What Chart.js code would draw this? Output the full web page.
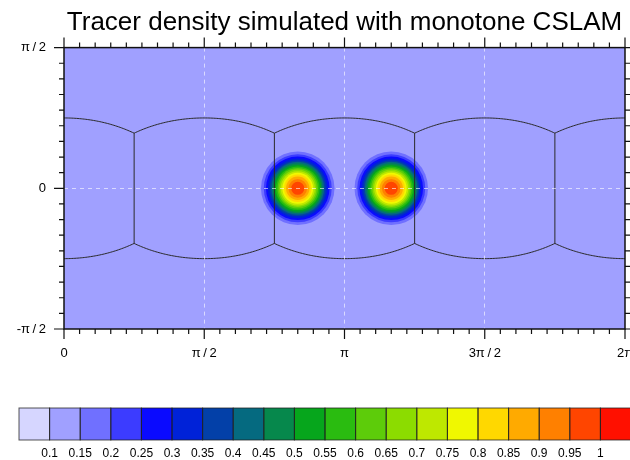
<!DOCTYPE html>
<html><head><meta charset="utf-8">
<script src="https://cdn.jsdelivr.net/npm/chart.js@4"></script>
<style>html,body{margin:0;padding:0;background:#fff;} canvas{display:block;}</style>
</head><body>
<canvas id="c" width="630" height="460" style="width:630px;height:460px"></canvas>
<script>
// ---------- data ----------
const titleText = 'Tracer density simulated with monotone CSLAM';
// colour levels (contour boundaries) and labels of the colour bar
const levels = [0.1,0.15,0.2,0.25,0.3,0.35,0.4,0.45,0.5,0.55,0.6,0.65,0.7,0.75,0.8,0.85,0.9,0.95,1];
const levelLabels = ['0.1','0.15','0.2','0.25','0.3','0.35','0.4','0.45','0.5','0.55','0.6','0.65','0.7','0.75','0.8','0.85','0.9','0.95','1'];
const levelColors = ['#D6D6FF','#A0A0FF','#7070FF','#3C3CFF','#0A0AFF','#0022D8','#0340A8','#056A80','#06884C','#06A61C',
                     '#2ABC10','#5DCC0A','#8CDC00','#BEE800','#F0F800','#FFD800','#FFAA00','#FF8000','#FF4500','#FF1000'];
// background tracer value
const backgroundValue = 0.1;
// two tracer hills: centres (degrees)
const hillLon = [150, 210];
const hillLat = [0, 0];
// contour levels inside each hill and radius (degrees) at which the field reaches that level
const ringLevels = [0.15,0.2,0.25,0.3,0.35,0.4,0.45,0.5,0.55,0.6,0.65,0.7,0.75,0.8,0.85,0.9,0.95];
const ringRadiusDeg = [23.6,21.8,20.4,19.2,18.0,17.0,16.0,15.0,14.0,13.0,12.0,11.0,9.9,8.8,7.5,6.0,4.2];
// axis ticks
const xTickValues = [0, 90, 180, 270, 360];
const xTickLabels = ['0', 'π\u2009/\u20092', 'π', '3π\u2009/\u20092', '2π'];
const yTickValues = [-90, 0, 90];
const yTickLabels = ['-π\u2009/\u20092', '0', 'π\u2009/\u20092'];
// cubed-sphere equatorial panel edges (longitude, degrees)
const panelEdgeLon = [45, 135, 225, 315];
const panelCenterLon = [0, 90, 180, 270, 360];

// ---------- helpers ----------
const FONT = "'Liberation Sans', Arial, Helvetica, sans-serif";
Chart.defaults.font.family = FONT;
const colorFor = v => levelColors[Math.round(v * 20) - 1];
const D = Math.PI / 180;

// hills drawn as filled contour discs, outermost first
const ringDatasets = ringLevels.map((L, i) => ({
  type: 'scatter',
  label: 'level ' + L,
  data: hillLon.map((lon, k) => ({ x: lon, y: hillLat[k] })),
  backgroundColor: colorFor(L),
  borderWidth: 0,
  pointBorderWidth: 0,
  pointStyle: 'circle',
  pointRadius: ctx => {
    const xs = ctx.chart.scales.x;
    return Math.abs(xs.getPixelForValue(ringRadiusDeg[i]) - xs.getPixelForValue(0));
  },
  pointHoverRadius: ctx => {
    const xs = ctx.chart.scales.x;
    return Math.abs(xs.getPixelForValue(ringRadiusDeg[i]) - xs.getPixelForValue(0));
  },
  order: 100 - i
}));

// cube-panel edge lines
function edgeLat(lon) {
  let best = panelCenterLon[0];
  panelCenterLon.forEach(c => { if (Math.abs(lon - c) < Math.abs(lon - best)) best = c; });
  return Math.atan(Math.cos((lon - best) * D)) / D;
}
const topEdge = [], botEdge = [];
for (let lon = 0; lon <= 360; lon += 1) {
  topEdge.push({ x: lon, y: edgeLat(lon) });
  botEdge.push({ x: lon, y: -edgeLat(lon) });
}
const lineStyle = { type: 'line', borderColor: '#2a2a2a', borderWidth: 1, pointRadius: 0, fill: false, tension: 0, order: 1 };
const edgeDatasets = [
  Object.assign({ label: 'edge N', data: topEdge }, lineStyle),
  Object.assign({ label: 'edge S', data: botEdge }, lineStyle),
  ...panelEdgeLon.map(lon => Object.assign({
    label: 'edge ' + lon,
    data: [{ x: lon, y: -edgeLat(lon) }, { x: lon, y: edgeLat(lon) }]
  }, lineStyle))
];

// ---------- plugins ----------
const bgPlugin = {
  id: 'bg',
  beforeDatasetsDraw(chart) {
    const { ctx, chartArea: a } = chart;
    ctx.save();
    ctx.fillStyle = colorFor(backgroundValue);
    ctx.fillRect(a.left, a.top, a.right - a.left, a.bottom - a.top);
    ctx.restore();
  }
};

const framePlugin = {
  id: 'frame',
  afterDraw(chart) {
    const { ctx, chartArea: a, scales: { x, y } } = chart;
    ctx.save();
    ctx.strokeStyle = '#111';
    ctx.lineWidth = 1.5;
    ctx.strokeRect(a.left, a.top, a.right - a.left, a.bottom - a.top);
    ctx.lineWidth = 1.2;
    ctx.beginPath();
    for (let v = x.min; v <= x.max; v += 10) {
      const p = x.getPixelForValue(v);
      const len = (v % 90 === 0) ? 10 : 5;
      ctx.moveTo(p, a.bottom); ctx.lineTo(p, a.bottom + len);
      ctx.moveTo(p, a.top); ctx.lineTo(p, a.top - len);
    }
    for (let v = y.min; v <= y.max; v += 10) {
      const p = y.getPixelForValue(v);
      const len = (v % 90 === 0) ? 10 : 5;
      ctx.moveTo(a.left, p); ctx.lineTo(a.left - len, p);
      ctx.moveTo(a.right, p); ctx.lineTo(a.right + len, p);
    }
    ctx.stroke();
    ctx.restore();
  }
};

const colorbarPlugin = {
  id: 'colorbar',
  afterDraw(chart) {
    const ctx = chart.ctx;
    const x0 = 19, w = 30.6, y0 = 408, h = 32;
    ctx.save();
    levelColors.forEach((c, i) => {
      ctx.fillStyle = c;
      ctx.fillRect(x0 + i * w, y0, w, h);
    });
    ctx.strokeStyle = 'rgba(30,30,30,0.75)';
    ctx.lineWidth = 1;
    levelColors.forEach((c, i) => {
      ctx.strokeRect(x0 + i * w, y0, w, h);
    });
    ctx.fillStyle = '#000';
    ctx.font = '12px ' + FONT;
    ctx.textAlign = 'center';
    ctx.textBaseline = 'middle';
    levelLabels.forEach((t, i) => {
      ctx.fillText(t, x0 + (i + 1) * w, 454);
    });
    ctx.restore();
  }
};

// ---------- chart ----------
const dashColor = 'rgba(255,255,255,0.6)';
new Chart(document.getElementById('c'), {
  type: 'scatter',
  data: { datasets: [...edgeDatasets, ...ringDatasets] },
  options: {
    responsive: false,
    animation: false,
    devicePixelRatio: 1,
    events: [],
    layout: { padding: { left: 0, right: 5, top: 0, bottom: 91 } },
    plugins: {
      legend: { display: false },
      tooltip: { enabled: false },
      title: {
        display: true, text: titleText, fullSize: false,
        color: '#000', font: { size: 26, weight: 'normal', family: FONT },
        padding: { top: 7, bottom: 9.4 }
      }
    },
    scales: {
      x: {
        type: 'linear', min: 0, max: 360,
        afterBuildTicks: s => { s.ticks = xTickValues.map(v => ({ value: v })); },
        afterFit: s => { s.height = 40; s.paddingLeft = 0; s.paddingRight = 0; },
        ticks: {
          callback: v => xTickLabels[xTickValues.indexOf(v)],
          color: '#000', font: { size: 13 }, padding: 17, maxRotation: 0, autoSkip: false
        },
        grid: {
          z: 1, drawTicks: false, lineWidth: 1,
          color: c => (c.tick && c.tick.value > 0 && c.tick.value < 360) ? dashColor : 'rgba(0,0,0,0)'
        },
        border: { display: false, dash: [4, 4] }
      },
      y: {
        type: 'linear', min: -90, max: 90,
        afterBuildTicks: s => { s.ticks = yTickValues.map(v => ({ value: v })); },
        afterFit: s => { s.width = 64; s.paddingTop = 0; s.paddingBottom = 0; },
        ticks: {
          callback: v => yTickLabels[yTickValues.indexOf(v)],
          color: '#000', font: { size: 13 }, padding: 18, autoSkip: false
        },
        grid: {
          z: 1, drawTicks: false, lineWidth: 1,
          color: c => (c.tick && c.tick.value > -90 && c.tick.value < 90) ? dashColor : 'rgba(0,0,0,0)'
        },
        border: { display: false, dash: [4, 4] }
      }
    }
  },
  plugins: [bgPlugin, framePlugin, colorbarPlugin]
});
</script>
</body></html>
